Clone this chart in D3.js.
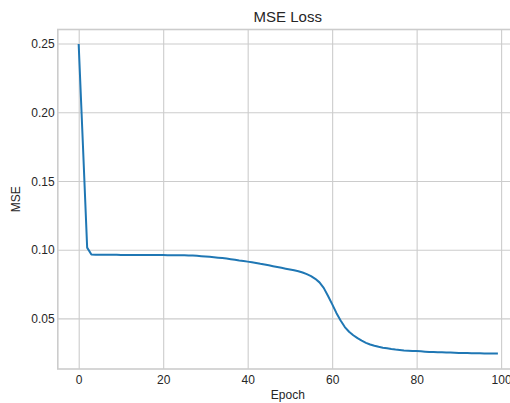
<!DOCTYPE html>
<html>
<head>
<meta charset="utf-8">
<script src="https://cdn.jsdelivr.net/npm/d3@7"></script>
<style>
  html, body { margin: 0; padding: 0; background: #ffffff; }
  svg { display: block; }
  text { font-family: "Liberation Sans", Arial, sans-serif; fill: #262626; }
</style>
</head>
<body>
<svg id="chart" width="510" height="403"></svg>
<script>
// Training loss per epoch
const epochs = d3.range(0, 100);
const mseLoss = [
  0.2490, 0.1760, 0.1015, 0.0965, 0.0963, 0.0963, 0.0963, 0.0963, 0.0963, 0.0963,
  0.0962, 0.0962, 0.0962, 0.0962, 0.0962, 0.0962, 0.0962, 0.0961, 0.0961, 0.0961,
  0.0961, 0.0960, 0.0960, 0.0960, 0.0959, 0.0959, 0.0958, 0.0957, 0.0955, 0.0953,
  0.0951, 0.0948, 0.0945, 0.0942, 0.0939, 0.0935, 0.0931, 0.0927, 0.0922, 0.0918,
  0.0913, 0.0908, 0.0903, 0.0897, 0.0892, 0.0886, 0.0880, 0.0874, 0.0868, 0.0862,
  0.0856, 0.0850, 0.0843, 0.0834, 0.0822, 0.0808, 0.0788, 0.0762, 0.0722, 0.0665,
  0.0604, 0.0540, 0.0485, 0.0437, 0.0403, 0.0377, 0.0356, 0.0338, 0.0322, 0.0310,
  0.0301, 0.0293, 0.0287, 0.0282, 0.0277, 0.0273, 0.0270, 0.0267, 0.0265, 0.0263,
  0.0262, 0.0260, 0.0258, 0.0256, 0.0255, 0.0254, 0.0253, 0.0252, 0.0251, 0.0250,
  0.0249, 0.0248, 0.0248, 0.0247, 0.0246, 0.0246, 0.0245, 0.0245, 0.0244, 0.0244
];
const xTicks = [0, 20, 40, 60, 80, 100];
const yTicks = [0.05, 0.10, 0.15, 0.20, 0.25];
const titleText = "MSE Loss";
const xLabel = "Epoch";
const yLabel = "MSE";

const svg = d3.select("#chart");
const plot = { left: 57.8, right: 517.8, top: 29.5, bottom: 369 };
const W = plot.right - plot.left;
const H = plot.bottom - plot.top;

// 5% padding around the data range on both axes
const xMin = d3.min(epochs), xMax = d3.max(epochs);
const xPad = (xMax - xMin) * 0.05;
const yMin = d3.min(mseLoss), yMax = d3.max(mseLoss);
const yPad = (yMax - yMin) * 0.05;

const x = d3.scaleLinear().domain([xMin - xPad, xMax + xPad]).range([0, W]);
const y = d3.scaleLinear().domain([yMin - yPad, yMax + yPad]).range([H, 0]);

const g = svg.append("g").attr("transform", `translate(${plot.left},${plot.top})`);

// Grid lines
const gridX = g.append("g")
  .attr("transform", `translate(0,${H})`)
  .call(d3.axisBottom(x).tickValues(xTicks).tickSize(-H).tickFormat(""));
const gridY = g.append("g")
  .call(d3.axisLeft(y).tickValues(yTicks).tickSize(-W).tickFormat(""));
[gridX, gridY].forEach(gr => {
  gr.select(".domain").remove();
  gr.selectAll("line").attr("stroke", "#cccccc").attr("stroke-width", 1.1);
});

// Axes frame
g.append("rect")
  .attr("x", 0).attr("y", 0).attr("width", W).attr("height", H)
  .attr("fill", "none").attr("stroke", "#cccccc").attr("stroke-width", 1.6);

// Tick labels
const xAxis = g.append("g")
  .attr("transform", `translate(0,${H})`)
  .call(d3.axisBottom(x).tickValues(xTicks).tickSize(0).tickPadding(0).tickFormat(d3.format("d")));
xAxis.select(".domain").remove();
xAxis.selectAll("text")
  .attr("y", 15).attr("dy", 0)
  .style("font-size", "12px").style("font-family", "'Liberation Sans', Arial, sans-serif").attr("fill", "#262626");

const yAxis = g.append("g")
  .call(d3.axisLeft(y).tickValues(yTicks).tickSize(0).tickPadding(0).tickFormat(d3.format(".2f")));
yAxis.select(".domain").remove();
yAxis.selectAll("text")
  .attr("x", -3.2).attr("dy", "0.35em")
  .style("font-size", "12px").style("font-family", "'Liberation Sans', Arial, sans-serif").attr("fill", "#262626");

// Loss curve
const line = d3.line()
  .x((d, i) => x(epochs[i]))
  .y(d => y(d));
g.append("path")
  .datum(mseLoss)
  .attr("fill", "none")
  .attr("stroke", "#1f77b4")
  .attr("stroke-width", 2)
  .attr("stroke-linejoin", "round")
  .attr("stroke-linecap", "square")
  .attr("d", line);

// Title and axis labels
svg.append("text")
  .attr("x", plot.left + W / 2).attr("y", 22.3)
  .attr("text-anchor", "middle")
  .style("font-size", "15px")
  .text(titleText);

svg.append("text")
  .attr("x", plot.left + W / 2).attr("y", 399.3)
  .attr("text-anchor", "middle")
  .style("font-size", "12px")
  .text(xLabel);

svg.append("text")
  .attr("transform", `translate(19.8,${plot.top + H / 2}) rotate(-90)`)
  .attr("text-anchor", "middle")
  .style("font-size", "12px")
  .text(yLabel);
</script>
</body>
</html>
